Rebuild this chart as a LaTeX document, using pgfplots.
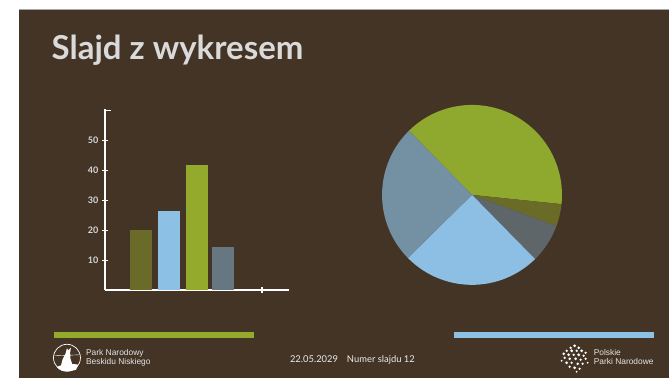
\documentclass[border=0pt]{standalone}
\usepackage{pgfplots}
\pgfplotsset{compat=1.18}
\usepackage{fontspec}
\setmainfont{Lato}
\newfontfamily\arialfont{Liberation Sans}
\definecolor{bg}{HTML}{433426}
\definecolor{titlegray}{HTML}{DADADA}
\definecolor{tickgray}{HTML}{D9D9D9}
\definecolor{bolive}{HTML}{6B6B29}
\definecolor{bblue}{HTML}{8CC0E4}
\definecolor{bgreen}{HTML}{93AA2C}
\definecolor{bslate}{HTML}{677782}
\definecolor{pgreen}{HTML}{8FA82E}
\definecolor{polive}{HTML}{6B6B28}
\definecolor{pdgray}{HTML}{5E6669}
\definecolor{pblue}{HTML}{8CBFE3}
\definecolor{pgblue}{HTML}{7490A3}
\begin{document}
\begin{tikzpicture}[x=1pt,y=1pt]
\fill[white] (0,0) rectangle (669,378);
\fill[bg] (19,0) rectangle (669,369);
\draw[gray!70, line width=0.8pt] (19,369) -- (669,369);
\node[anchor=base west, inner sep=0, text=titlegray, font=\fontsize{33}{38}\selectfont\bfseries] at (51.5,318) {Slajd z wykresem};

% bar chart
\begin{axis}[at={(105pt,87.5pt)}, anchor=south west, scale only axis,
  width=184pt, height=181.5pt, xmin=0, xmax=184, ymin=0, ymax=60.5,
  axis lines*=left, axis line style={white, line width=1.8pt},
  xtick={157}, xticklabels={}, ytick={10,20,30,40,50},
  extra y ticks={60}, extra y tick labels={}, extra y tick style={tick align=inside},
  tick align=center, major tick length=6pt, tick style={white, line width=1.6pt},
  yticklabel style={text=tickgray, font=\fontsize{9}{10}\selectfont\bfseries},
  /pgf/number format/assume math mode=true, clip=false]
\addplot[ybar, bar width=22pt, bar shift=0pt, fill=bolive, draw=none] coordinates {(36,20)};
\addplot[ybar, bar width=22pt, bar shift=0pt, fill=bblue, draw=none] coordinates {(64,26.3)};
\addplot[ybar, bar width=22pt, bar shift=0pt, fill=bgreen, draw=none] coordinates {(92,41.7)};
\addplot[ybar, bar width=22pt, bar shift=0pt, fill=bslate, draw=none] coordinates {(118,14.3)};
\end{axis}

% pie chart: shares 39, 4, 7, 25, 25 (percent), starting at 134.5 deg clockwise
\pgfmathsetmacro\sA{134.5}
\pgfmathsetmacro\sB{\sA-3.6*39}
\pgfmathsetmacro\sC{\sB-3.6*4}
\pgfmathsetmacro\sD{\sC-3.6*7}
\pgfmathsetmacro\sE{\sD-3.6*25}
\pgfmathsetmacro\sF{\sE-3.6*25}
\begin{axis}[at={(472.3pt,183pt)}, anchor=center, scale only axis,
  width=180pt, height=180pt, xmin=-1, xmax=1, ymin=-1, ymax=1, hide axis, clip=false]
\addplot[fill=pgreen, draw=none, domain=\sB:\sA, samples=80, variable=\t] ({cos(\t)},{sin(\t)}) -- (axis cs:0,0) -- cycle;
\addplot[fill=polive, draw=none, domain=\sC:\sB, samples=20, variable=\t] ({cos(\t)},{sin(\t)}) -- (axis cs:0,0) -- cycle;
\addplot[fill=pdgray, draw=none, domain=\sD:\sC, samples=20, variable=\t] ({cos(\t)},{sin(\t)}) -- (axis cs:0,0) -- cycle;
\addplot[fill=pblue, draw=none, domain=\sE:\sD, samples=60, variable=\t] ({cos(\t)},{sin(\t)}) -- (axis cs:0,0) -- cycle;
\addplot[fill=pgblue, draw=none, domain=\sF:\sE, samples=60, variable=\t] ({cos(\t)},{sin(\t)}) -- (axis cs:0,0) -- cycle;
\end{axis}

% footer
\fill[bgreen] (54,40) rectangle (254,46);
\fill[bblue] (454,40) rectangle (654,46);
\node[anchor=base west, inner sep=0, text=white!92!black, font=\fontsize{9.4}{11}\selectfont] at (290,15) {22.05.2029};
\node[anchor=base west, inner sep=0, text=white!92!black, font=\fontsize{9.4}{11}\selectfont] at (347,15) {Numer slajdu 12};

% left logo
\draw[white, line width=0.7pt] (67,20) circle (13.5);
\draw[white, line width=0.4pt] (54.5,22) -- (79.5,23);
\fill[white] (57,11) .. controls (63,14) and (72,14.5) .. (78.5,13) -- (76,8) .. controls (70,6) and (63,6) .. (59,8.5) -- cycle;
\fill[white] (61,12) -- (62.5,18) -- (65.5,24) -- (67,29.5) -- (68.3,27.5) -- (71,30) -- (70.2,25.5) -- (70.5,19) -- (72.5,13) -- cycle;
\node[anchor=base west, inner sep=0, text=white!90!black, font=\arialfont\fontsize{8.4}{10}\selectfont] at (86,22) {Park Narodowy};
\node[anchor=base west, inner sep=0, text=white!90!black, font=\arialfont\fontsize{8.4}{10}\selectfont] at (86,13) {Beskidu Niskiego};

% right logo
\foreach \px/\py/\r in {575/32/1.5, 571/30/1.3, 579/30/1.4, 567/27/1.3, 572/27/1.6, 577/27/1.3, 582/27/1.5, 586/25/1.2, 564/24/1.4, 569/23/1.5, 574/23/1.3, 579/23/1.6, 584/22/1.3, 565/20/1.3, 570/19/1.4, 576/19/1.5, 581/18/1.3, 586/19/1.3, 567/15/1.5, 572/15/1.3, 578/14/1.4, 583/14/1.3, 570/11/1.3, 575/10/1.5, 580/9/1.2, 577/6/1.0, 562/17/1.0, 588/15/1.0}
  \fill[white] (\px,\py) circle (\r);
\node[anchor=base west, inner sep=0, text=white!90!black, font=\arialfont\fontsize{8.4}{10}\selectfont] at (594,22) {Polskie};
\node[anchor=base west, inner sep=0, text=white!90!black, font=\arialfont\fontsize{8.4}{10}\selectfont] at (594,13) {Parki Narodowe};
\end{tikzpicture}
\end{document}
